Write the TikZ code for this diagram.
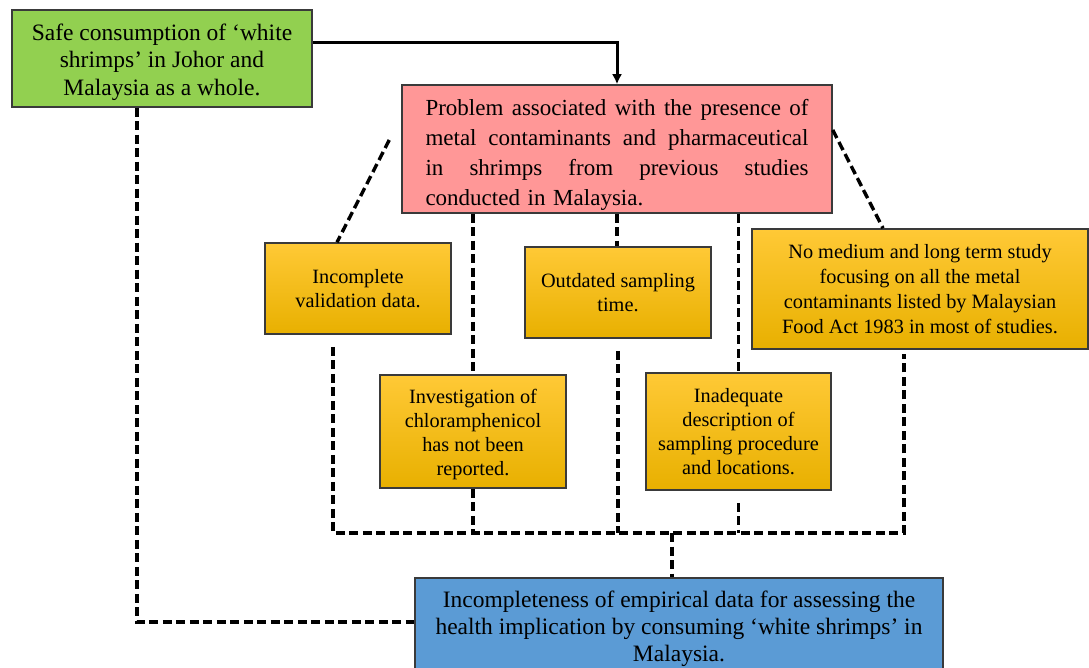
\documentclass[tikz,border=0pt]{standalone}
\usepackage{amsmath,amssymb,amsfonts}
\usepackage{xcolor}
\usepackage{tikz}
\usepackage{fontspec}
\usetikzlibrary{arrows.meta}
\setmainfont{Liberation Serif}
\definecolor{boxgreen}{HTML}{92D050}
\definecolor{boxpink}{HTML}{FF9797}
\definecolor{boxblue}{HTML}{5B9BD5}
\definecolor{goldtop}{HTML}{FFC936}
\definecolor{goldbot}{HTML}{E8B000}
\definecolor{boxedge}{HTML}{3A3A3A}
\newcommand{\jline}[1]{\makebox[383pt][s]{\spaceskip=0.25em plus 1fil\relax #1}}

\begin{document}
\begin{tikzpicture}[x=1pt, y=-1pt,
	box/.style={draw=boxedge, line width=1.5pt, inner sep=0pt, align=center},
	goldbox/.style={box, top color=goldtop, bottom color=goldbot, font=\fontsize{20.3}{24}\selectfont},
	dline/.style={draw=black, line width=3.4pt, dash pattern=on 9pt off 4.5pt},
	aline/.style={draw=black, line width=3pt, -{Latex[length=10pt,width=10pt]}}]
	\useasboundingbox (0,0) rectangle (1089,668);
	\node[box, fill=boxgreen, minimum width=300, minimum height=97, font=\fontsize{23.5}{27.5}\selectfont] (safe) at (162,58.5) {\rule{0pt}{24pt}Safe consumption of ‘white\\shrimps’ in Johor and\\Malaysia as a whole.};
	\node[box, fill=boxpink, minimum width=430, minimum height=128, text width=383, align=left, font=\fontsize{23}{30}\selectfont] (problem) at (617,149) {\rule{0pt}{28pt}\jline{Problem associated with the presence of}\\\jline{metal contaminants and pharmaceutical}\\\jline{in shrimps from previous studies}\\conducted in Malaysia.};
	\node[goldbox, minimum width=186, minimum height=91] (incomplete) at (358,288.5) {Incomplete\\validation data.};
	\node[goldbox, minimum width=186, minimum height=91] (outdated) at (618,292.5) {Outdated sampling\\time.};
	\node[goldbox, minimum width=336, minimum height=120, font=\fontsize{20.3}{25}\selectfont] (nomedium) at (920,289) {No medium and long term study\\focusing on all the metal\\contaminants listed by Malaysian\\Food Act 1983 in most of studies.};
	\node[goldbox, minimum width=186, minimum height=113] (chloram) at (473,431.5) {\rule{0pt}{20pt}Investigation of\\chloramphenicol\\has not been\\reported.};
	\node[goldbox, minimum width=185, minimum height=117] (inadequate) at (738.5,431.5) {Inadequate\\description of\\sampling procedure\\and locations.};
	\node[box, fill=boxblue, minimum width=528, minimum height=98, font=\fontsize{23.5}{27}\selectfont] (empirical) at (679,627) {\rule{0pt}{21pt}Incompleteness of empirical data for assessing the\\health implication by consuming ‘white shrimps’ in\\Malaysia.};
	\coordinate (bus) at (0,533);
	\coordinate (safeR) at ([yshift=15.5pt]safe.east);
	\coordinate (safeB) at ([xshift=-25pt]safe.south);
	\coordinate (empL) at ([yshift=5pt]empirical.west);
	\coordinate (empT) at ([xshift=-7pt]empirical.north);
	\coordinate (incB) at ([xshift=-25pt]incomplete.south);
	\coordinate (nomB) at ([xshift=-16pt]nomedium.south);
	\draw[aline] (safeR) -| (problem.north);
	\draw[dline] (safeB) |- (empL);
	\draw[dline] ([shift={(-12pt,9pt)}]problem.west) -- ([xshift=-21pt]incomplete.north);
	\draw[dline] (problem.south -| chloram.north) -- (chloram.north);
	\draw[dline] (problem.south) -- (problem.south |- outdated.north);
	\draw[dline] (problem.south -| inadequate.north) -- (inadequate.north);
	\draw[dline] ([yshift=19pt]problem.east) -- ([xshift=-37pt]nomedium.north);
	\draw[dline] ([yshift=-12pt]incB) -- (incB |- bus) -- (nomB |- bus) -- ([yshift=-4pt]nomB);
	\draw[dline] (chloram.south) -- (chloram.south |- bus);
	\draw[dline] ([yshift=-12pt]outdated.south) -- (outdated.south |- bus);
	\draw[dline] ([yshift=-12pt]inadequate.south) -- (inadequate.south |- bus);
	\draw[dline] (empT |- bus) -- (empT);
\end{tikzpicture}
\end{document}
